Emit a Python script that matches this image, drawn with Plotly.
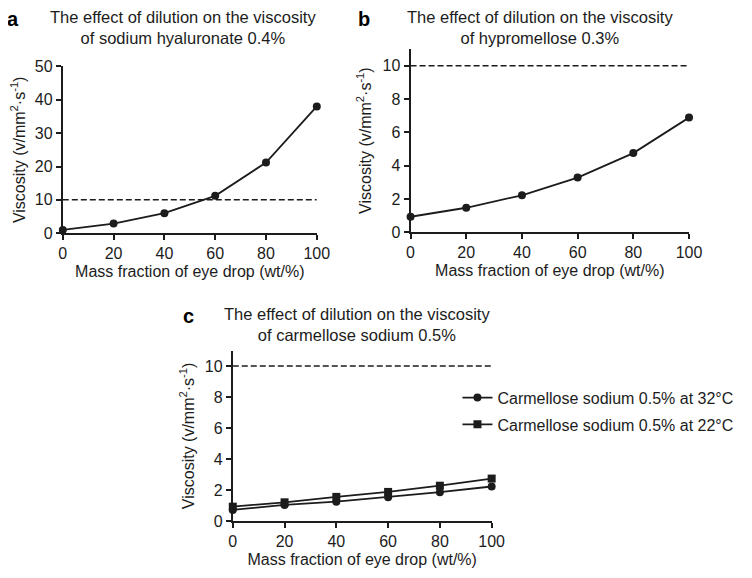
'''希釈による点眼薬の粘度変化 (a, b, c の3パネル)'''
# %%
import plotly.graph_objects as go

# %%
# data
mass_fraction: list[int] = [0, 20, 40, 60, 80, 100]  # wt/%
hyaluronate_04: list[float] = [1.0, 2.9, 6.0, 11.2, 21.2, 38.0]
hypromellose_03: list[float] = [0.93, 1.47, 2.22, 3.28, 4.75, 6.88]
carmellose_32C: list[float] = [0.73, 1.05, 1.26, 1.55, 1.87, 2.24]
carmellose_22C: list[float] = [0.94, 1.22, 1.57, 1.89, 2.29, 2.75]
THRESHOLD: float = 10.0  # dashed reference line

x_ticks: list[int] = [0, 20, 40, 60, 80, 100]
y_ticks_a: list[int] = [0, 10, 20, 30, 40, 50]
y_ticks_bc: list[int] = [0, 2, 4, 6, 8, 10]

panel_titles: list[str] = [
    "The effect of dilution on the viscosity<br>of sodium hyaluronate 0.4%",
    "The effect of dilution on the viscosity<br>of hypromellose 0.3%",
    "The effect of dilution on the viscosity<br>of carmellose sodium 0.5%",
]
panel_letters: list[str] = ["a", "b", "c"]
legend_names: list[str] = [
    "Carmellose sodium 0.5% at 32°C",
    "Carmellose sodium 0.5% at 22°C",
]
X_TITLE: str = "Mass fraction of eye drop (wt/%)"
Y_TITLE: str = "Viscosity (v/mm<sup>2</sup>·s<sup>-1</sup>)"

# %%
# the page body keeps its 8px margin, so the figure is 16px smaller than the window
PAGE_W, PAGE_H = 752, 578
BODY = 8
W, H = PAGE_W - 2 * BODY, PAGE_H - 2 * BODY
INK = "#1c1c1c"
FONT = "Liberation Sans, Arial, sans-serif"


def px_x(p: float) -> float:
    # window pixel -> paper coordinate
    return (p - BODY) / W


def px_y(p: float) -> float:
    return 1 - (p - BODY) / H


fig: go.Figure = go.Figure()

line_style = dict(color=INK, width=1.8)
dash_style = dict(color=INK, width=1.5, dash="6px,3px")

# panel a
fig.add_trace(go.Scatter(x=mass_fraction, y=[THRESHOLD] * len(mass_fraction), mode="lines",
                         line=dash_style, xaxis="x", yaxis="y", showlegend=False))
fig.add_trace(go.Scatter(x=mass_fraction, y=hyaluronate_04, mode="lines+markers",
                         line=line_style, marker=dict(symbol="circle", size=8, color=INK),
                         xaxis="x", yaxis="y", showlegend=False, cliponaxis=False))
# panel b
fig.add_trace(go.Scatter(x=mass_fraction, y=[THRESHOLD] * len(mass_fraction), mode="lines",
                         line=dash_style, xaxis="x2", yaxis="y2", showlegend=False))
fig.add_trace(go.Scatter(x=mass_fraction, y=hypromellose_03, mode="lines+markers",
                         line=line_style, marker=dict(symbol="circle", size=8, color=INK),
                         xaxis="x2", yaxis="y2", showlegend=False, cliponaxis=False))
# panel c
fig.add_trace(go.Scatter(x=mass_fraction, y=[THRESHOLD] * len(mass_fraction), mode="lines",
                         line=dash_style, xaxis="x3", yaxis="y3", showlegend=False))
fig.add_trace(go.Scatter(x=mass_fraction, y=carmellose_32C, mode="lines+markers", name=legend_names[0],
                         line=line_style, marker=dict(symbol="circle", size=8, color=INK),
                         xaxis="x3", yaxis="y3", cliponaxis=False, legendgroup="32C"))
fig.add_trace(go.Scatter(x=mass_fraction, y=carmellose_22C, mode="lines+markers", name=legend_names[1],
                         line=line_style, marker=dict(symbol="square", size=8, color=INK),
                         xaxis="x3", yaxis="y3", cliponaxis=False, legendgroup="22C"))

# %%
axis_common = dict(showline=True, linecolor=INK, linewidth=2, ticks="outside", ticklen=5,
                   tickwidth=2, tickcolor=INK, showgrid=False, zeroline=False, mirror=False,
                   tickfont=dict(size=16, color=INK, family=FONT))


def x_axis(domain: list[float], anchor: str) -> dict:
    return dict(axis_common, domain=domain, anchor=anchor, range=[0, 100], tickvals=x_ticks,
                title=dict(text=X_TITLE, font=dict(size=16, color=INK, family=FONT), standoff=4))


def y_axis(domain: list[float], anchor: str, rng: list[float], ticks: list[int], standoff: int) -> dict:
    return dict(axis_common, domain=domain, anchor=anchor, range=rng, tickvals=ticks,
                title=dict(text=Y_TITLE, font=dict(size=16, color=INK, family=FONT), standoff=standoff))


# plot area boundaries in window pixels (left, right, top, bottom)
box_a = (60, 320, 60, 232)
box_b = (416, 701, 42, 231)
box_c = (234, 499, 353, 529)

fig.update_layout(
    xaxis=x_axis([px_x(box_a[0]), px_x(box_a[1])], "y"),
    yaxis=y_axis([px_y(box_a[3]), px_y(box_a[2])], "x", [0, 50], y_ticks_a, 9),
    xaxis2=x_axis([px_x(box_b[0]), px_x(box_b[1])], "y2"),
    yaxis2=y_axis([px_y(box_b[3]), px_y(box_b[2])], "x2", [0, 11], y_ticks_bc, 7),
    xaxis3=x_axis([px_x(box_c[0]), px_x(box_c[1])], "y3"),
    yaxis3=y_axis([px_y(box_c[3]), px_y(box_c[2])], "x3", [0, 11], y_ticks_bc, 6),
)

# titles and panel letters
title_pos = [(183, 19.5), (548, 19.5), (361, 326.5)]
letter_pos = [(9, 11), (368, 11), (189, 317)]
for txt, (tx, ty) in zip(panel_titles, title_pos):
    fig.add_annotation(text=txt, x=px_x(tx), y=px_y(ty), xref="paper", yref="paper",
                       xanchor="center", yanchor="middle", showarrow=False,
                       font=dict(size=16.5, color=INK, family=FONT))
for txt, (lx, ly) in zip(panel_letters, letter_pos):
    fig.add_annotation(text="<b>" + txt + "</b>", x=px_x(lx), y=px_y(ly), xref="paper", yref="paper",
                       xanchor="center", yanchor="middle", showarrow=False,
                       font=dict(size=20, color="#000000", family=FONT))

fig.update_layout(
    width=W, height=H,
    margin=dict(l=0, r=0, t=0, b=0),
    paper_bgcolor="white", plot_bgcolor="white",
    font=dict(family=FONT, color=INK),
    legend=dict(x=px_x(464), y=px_y(384), xanchor="left", yanchor="top",
                font=dict(size=16, color=INK, family=FONT), bgcolor="rgba(0,0,0,0)",
                tracegroupgap=3, itemwidth=30),
)

fig.write_html("out.html", config={"displayModeBar": False})
